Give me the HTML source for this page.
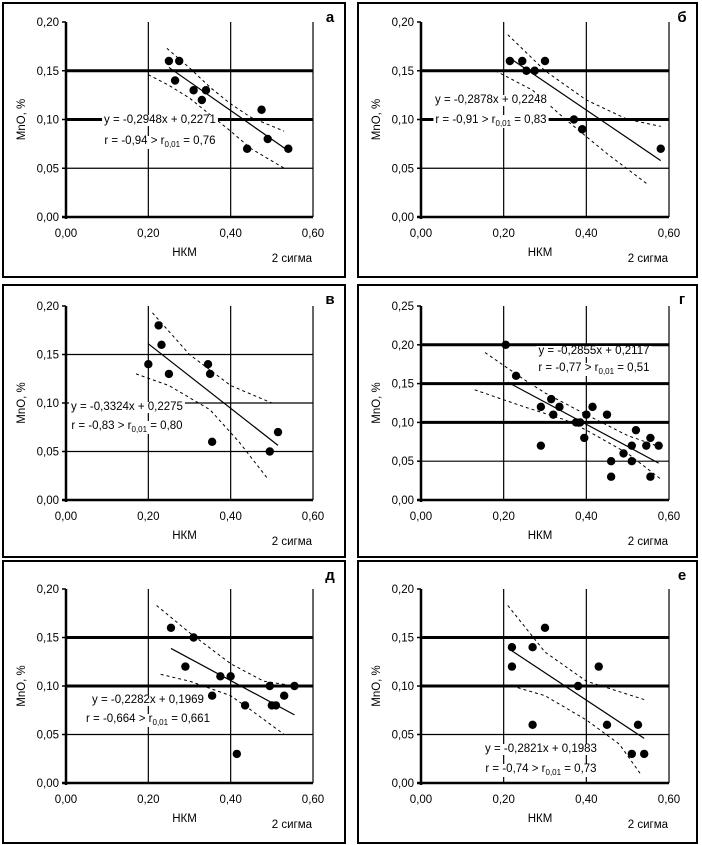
<!DOCTYPE html>
<html><head><meta charset="utf-8"><style>
html,body{margin:0;padding:0;background:#fff;}
svg{display:block;font-family:"Liberation Sans",Arial,sans-serif;}
</style></head><body>
<svg id="c" width="702" height="845" viewBox="0 0 702 845"></svg>
<script>
// ---- data ----
const aX=[0.25,0.275,0.265,0.31,0.34,0.33,0.475,0.49,0.44,0.54];
const aY=[0.16,0.16,0.14,0.13,0.13,0.12,0.11,0.08,0.07,0.07];
const aUpX=[0.245,0.30,0.35,0.40,0.45,0.53];const aUpY=[0.173,0.153,0.133,0.116,0.102,0.088];
const aLoX=[0.20,0.25,0.30,0.35,0.40,0.45,0.53];const aLoY=[0.146,0.135,0.122,0.105,0.088,0.07,0.05];
const bX=[0.215,0.245,0.30,0.255,0.275,0.37,0.39,0.58];
const bY=[0.16,0.16,0.16,0.15,0.15,0.10,0.09,0.07];
const bUpX=[0.21,0.30,0.40,0.50,0.58];const bUpY=[0.187,0.15,0.12,0.10,0.093];
const bLoX=[0.18,0.27,0.35,0.45,0.55];const bLoY=[0.15,0.13,0.10,0.065,0.033];
const vX=[0.225,0.232,0.20,0.25,0.345,0.35,0.355,0.495,0.515];
const vY=[0.18,0.16,0.14,0.13,0.14,0.13,0.06,0.05,0.07];
const vUpX=[0.21,0.30,0.40,0.50];const vUpY=[0.193,0.15,0.118,0.10];
const vLoX=[0.17,0.25,0.35,0.42,0.49];const vLoY=[0.13,0.118,0.093,0.06,0.022];
const gX=[0.205,0.23,0.29,0.315,0.32,0.335,0.29,0.375,0.385,0.40,0.395,0.415,0.45,0.46,0.46,0.49,0.51,0.51,0.52,0.545,0.555,0.575,0.555];
const gY=[0.20,0.16,0.12,0.13,0.11,0.12,0.07,0.10,0.10,0.11,0.08,0.12,0.11,0.05,0.03,0.06,0.07,0.05,0.09,0.07,0.08,0.07,0.03];
const gUpX=[0.155,0.25,0.30,0.40,0.50,0.57];const gUpY=[0.19,0.155,0.138,0.11,0.083,0.07];
const gLoX=[0.13,0.25,0.35,0.40,0.50,0.58];const gLoY=[0.142,0.12,0.103,0.09,0.06,0.027];
const dX=[0.255,0.31,0.29,0.375,0.40,0.355,0.435,0.415,0.495,0.50,0.51,0.53,0.555];
const dY=[0.16,0.15,0.12,0.11,0.11,0.09,0.08,0.03,0.10,0.08,0.08,0.09,0.10];
const dUpX=[0.22,0.30,0.40,0.48,0.555];const dUpY=[0.183,0.155,0.123,0.105,0.10];
const dLoX=[0.23,0.30,0.40,0.45,0.53];const dLoY=[0.112,0.105,0.09,0.075,0.05];
const eX=[0.22,0.22,0.27,0.30,0.27,0.38,0.43,0.45,0.51,0.525,0.54];
const eY=[0.14,0.12,0.14,0.16,0.06,0.10,0.12,0.06,0.03,0.06,0.03];
const eUpX=[0.21,0.30,0.40,0.54];const eUpY=[0.183,0.135,0.105,0.086];
const eLoX=[0.22,0.30,0.40,0.48,0.53];const eLoY=[0.10,0.09,0.065,0.04,0.01];
const xTicks=["0,00","0,20","0,40","0,60"];
const yTicks4=["0,00","0,05","0,10","0,15","0,20"];
const yTicks5=["0,00","0,05","0,10","0,15","0,20","0,25"];

const panels=[
 {id:'a',L:'а',f:[3,3,345,277],px:[66,313],py:[22,217],ymax:0.20,yt:yTicks4,thick:[0.10,0.15],x:aX,y:aY,ux:aUpX,uy:aUpY,lx:aLoX,ly:aLoY,k:-0.2948,b:0.2271,r:[0.25,0.535],eq:'y = -0,2948x + 0,2271',rs:['r = -0,94 > r','0,01',' = 0,76'],tx:160,ty:[123,144]},
 {id:'b',L:'б',f:[358,3,697,277],px:[421,669],py:[22,217],ymax:0.20,yt:yTicks4,thick:[0.10,0.15],x:bX,y:bY,ux:bUpX,uy:bUpY,lx:bLoX,ly:bLoY,k:-0.2878,b:0.2248,r:[0.215,0.58],eq:'y = -0,2878x + 0,2248',rs:['r = -0,91 > r','0,01',' = 0,83'],tx:491,ty:[103,123]},
 {id:'v',L:'в',f:[3,285,345,557],px:[66,313],py:[306,500],ymax:0.20,yt:yTicks4,thick:[],x:vX,y:vY,ux:vUpX,uy:vUpY,lx:vLoX,ly:vLoY,k:-0.3324,b:0.2275,r:[0.20,0.515],eq:'y = -0,3324x + 0,2275',rs:['r = -0,83 > r','0,01',' = 0,80'],tx:127,ty:[410,429]},
 {id:'g',L:'г',f:[358,285,697,557],px:[421,669],py:[306,500],ymax:0.25,yt:yTicks5,thick:[0.10,0.15,0.20],x:gX,y:gY,ux:gUpX,uy:gUpY,lx:gLoX,ly:gLoY,k:-0.2855,b:0.2117,r:[0.21,0.575],eq:'y = -0,2855x + 0,2117',rs:['r = -0,77 > r','0,01',' = 0,51'],tx:594,ty:[354,371]},
 {id:'d',L:'д',f:[3,561,345,843],px:[66,313],py:[589,783],ymax:0.20,yt:yTicks4,thick:[0.10,0.15],x:dX,y:dY,ux:dUpX,uy:dUpY,lx:dLoX,ly:dLoY,k:-0.2282,b:0.1969,r:[0.255,0.555],eq:'y = -0,2282x + 0,1969',rs:['r = -0,664 > r','0,01',' = 0,661'],tx:148,ty:[703,722]},
 {id:'e',L:'е',f:[358,561,697,843],px:[421,669],py:[589,783],ymax:0.20,yt:yTicks4,thick:[0.10,0.15],x:eX,y:eY,ux:eUpX,uy:eUpY,lx:eLoX,ly:eLoY,k:-0.2821,b:0.1983,r:[0.22,0.54],eq:'y = -0,2821x + 0,1983',rs:['r = -0,74 > r','0,01',' = 0,73'],tx:541,ty:[752,772]}
];
const NS='http://www.w3.org/2000/svg';
const svg=document.getElementById('c');
function mk(t,a,p){const e=document.createElementNS(NS,t);for(const k in a)e.setAttribute(k,a[k]);(p||svg).appendChild(e);return e;}
panels.forEach(P=>{
 const g=mk('g',{});
 
 
 const X=v=>P.px[0]+(P.px[1]-P.px[0])*v/0.6;
 const Y=v=>P.py[1]-(P.py[1]-P.py[0])*v/P.ymax;
 const fr=mk('rect',{x:P.f[0],y:P.f[1],width:P.f[2]-P.f[0],height:P.f[3]-P.f[1],fill:'none',stroke:'#000','stroke-width':2},g);
 
 
 // horizontal grid
 P.yt.forEach((t,i)=>{const v=i*0.05;if(i===0||i===P.yt.length-1)return;
  const th=P.thick.some(q=>Math.abs(q-v)<1e-9);
  const l=mk('line',{x1:P.px[0],x2:P.px[1],y1:Y(v),y2:Y(v),stroke:'#000','stroke-width':th?3:1.2},g);
  
  });
 // vertical grid
 [0.2,0.4,0.6].forEach(v=>{const l=mk('line',{x1:X(v),x2:X(v),y1:P.py[0],y2:P.py[1],stroke:'#000','stroke-width':1.2},g);
  
  });
 // axes
 const ya=mk('line',{x1:P.px[0],x2:P.px[0],y1:P.py[0],y2:P.py[1]+2,stroke:'#000','stroke-width':2.5},g);
 
 
 const xa=mk('line',{x1:P.px[0]-4,x2:P.px[1],y1:P.py[1],y2:P.py[1],stroke:'#000','stroke-width':2.5},g);
 
 
 P.yt.forEach((t,i)=>{const v=i*0.05;
  const tk=mk('line',{x1:P.px[0]-4,x2:P.px[0],y1:Y(v),y2:Y(v),stroke:'#000','stroke-width':1.5},g);
  
  
  const tx=mk('text',{x:P.px[0]-7,y:Y(v)+4,'font-size':11.5,'text-anchor':'end'},g);tx.textContent=t;
  
  });
 xTicks.forEach((t,i)=>{const v=i*0.2;
  const tx=mk('text',{x:X(v),y:P.py[1]+20,'font-size':11.5,'text-anchor':'middle'},g);tx.textContent=t;
  
  });
 const xt=mk('text',{x:X(0.3)-5,y:P.py[1]+39,'font-size':11.5,'text-anchor':'middle'},g);xt.textContent='НКМ';
 
 
 const sg=mk('text',{x:X(0.6)-1,y:P.py[1]+45,'font-size':11.5,'text-anchor':'end'},g);sg.textContent='2 сигма';
 
 
 const cy=(P.py[0]+P.py[1])/2;
 const yt=mk('text',{x:0,y:0,'font-size':11.5,'text-anchor':'middle',transform:`translate(${P.f[0]+22},${cy}) rotate(-90)`},g);yt.textContent='MnO, %';
 
 
 const lt=mk('text',{x:P.f[2]-15,y:P.f[1]+19,'font-size':15,'font-weight':'bold','text-anchor':'middle'},g);lt.textContent=P.L;
 
 
 // bands
 [[P.ux,P.uy,'upper-confidence-band'],[P.lx,P.ly,'lower-confidence-band']].forEach(([xs,ys,n])=>{
  const pl=mk('polyline',{points:xs.map((v,i)=>X(v)+','+Y(ys[i])).join(' '),fill:'none',stroke:'#000','stroke-width':1,'stroke-dasharray':'3,3'},g);
  
  });
 // regression
 const rl=mk('line',{x1:X(P.r[0]),y1:Y(P.k*P.r[0]+P.b),x2:X(P.r[1]),y2:Y(P.k*P.r[1]+P.b),stroke:'#000','stroke-width':1.2},g);
 
 
 // points
 P.x.forEach((v,i)=>{const c=mk('circle',{cx:X(v),cy:Y(P.y[i]),r:4.2,fill:'#000'},g);
  
  });
 // equation text
 const e1=mk('text',{x:P.tx,y:P.ty[0],'font-size':11.5,'text-anchor':'middle'},g);e1.textContent=P.eq;
 
 
 const e2=mk('text',{x:P.tx,y:P.ty[1],'font-size':11.5,'text-anchor':'middle'},g);
 
 
 const s1=mk('tspan',{},e2);s1.textContent=P.rs[0];
 const s2=mk('tspan',{'font-size':8,dy:3},e2);s2.textContent=P.rs[1];
 const s3=mk('tspan',{dy:-3},e2);s3.textContent=P.rs[2];
 [e1,e2].forEach(t=>{const bb=t.getBBox();const bg=mk('rect',{x:bb.x-2,y:bb.y+1,width:bb.width+4,height:bb.height-1,fill:'#fff'},g);
  
  
  g.insertBefore(bg,e1);});
});
</script>
</body></html>
